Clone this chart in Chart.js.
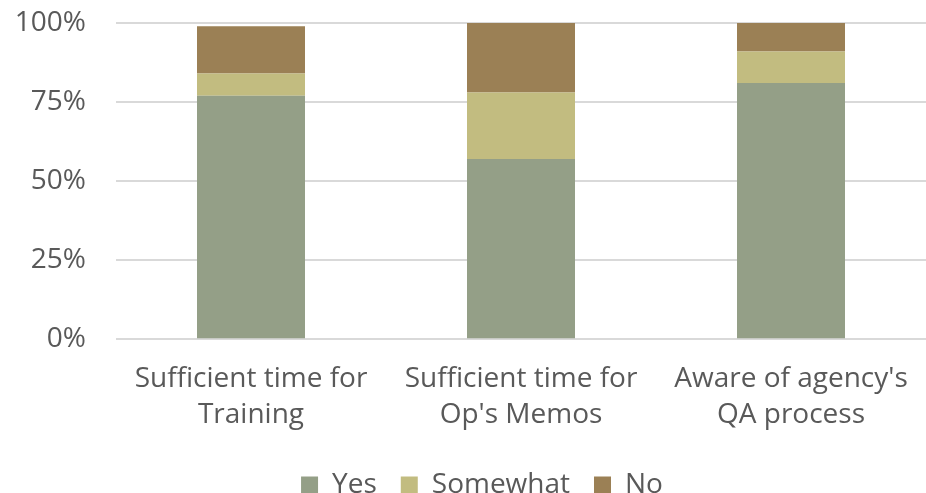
<!DOCTYPE html>
<html>
<head>
<meta charset="utf-8">
<script src="https://cdn.jsdelivr.net/npm/chart.js@4"></script>
<style>
  html, body { margin: 0; padding: 0; background: #fff; }
  #wrap { width: 926px; height: 493px; }
</style>
</head>
<body>
<div id="wrap"><canvas id="chart"></canvas></div>
<script>
const categories = [
    ['Sufficient time for', 'Training'],
    ['Sufficient time for', "Op's Memos"],
    ["Aware of agency's", 'QA process']
];
const yesValues = [77, 57, 81];
const somewhatValues = [7, 21, 10];
const noValues = [15, 22, 9];
const yTicks = [0, 25, 50, 75, 100];

const textColor = '#595959';
const fontFamily = "'Open Sans', 'Noto Sans', sans-serif";

// nudge the legend a little right of the canvas centre
const legendShift = {
    id: 'legendShift',
    afterLayout(chart) {
        chart.legend.left += 38;
    }
};

const ctx = document.getElementById('chart').getContext('2d');
new Chart(ctx, {
    type: 'bar',
    data: {
        labels: categories,
        datasets: [
            { label: 'Yes', data: yesValues, backgroundColor: '#949f87' },
            { label: 'Somewhat', data: somewhatValues, backgroundColor: '#c2bc80' },
            { label: 'No', data: noValues, backgroundColor: '#9b8055' }
        ]
    },
    plugins: [legendShift],
    options: {
        responsive: true,
        maintainAspectRatio: false,
        animation: false,
        layout: { padding: { top: 23, right: 0, left: 0, bottom: -16 } },
        datasets: {
            bar: { barPercentage: 0.4, categoryPercentage: 1.0 }
        },
        plugins: {
            tooltip: { enabled: false },
            legend: {
                position: 'bottom',
                labels: {
                    color: textColor,
                    font: { family: fontFamily, size: 28 },
                    boxWidth: 17,
                    boxHeight: 17,
                    padding: 24
                }
            }
        },
        scales: {
            x: {
                stacked: true,
                grid: { display: false },
                border: { display: false },
                ticks: {
                    color: textColor,
                    font: { family: fontFamily, size: 28, lineHeight: 1.28 },
                    padding: 14,
                    maxRotation: 0
                }
            },
            y: {
                stacked: true,
                min: 0,
                max: 100,
                afterBuildTicks: axis => {
                    axis.ticks = yTicks.map(v => ({ value: v }));
                },
                afterFit: axis => {
                    // fixed axis width; top/bottom space comes from layout padding
                    axis.width = 116;
                    axis.paddingTop = 0;
                    axis.paddingBottom = 0;
                },
                grid: { color: '#d9d9d9', lineWidth: 2, drawTicks: false },
                border: { display: false },
                ticks: {
                    color: textColor,
                    font: { family: fontFamily, size: 28 },
                    padding: 30,
                    callback: v => v + '%'
                }
            }
        }
    }
});
</script>
</body>
</html>
